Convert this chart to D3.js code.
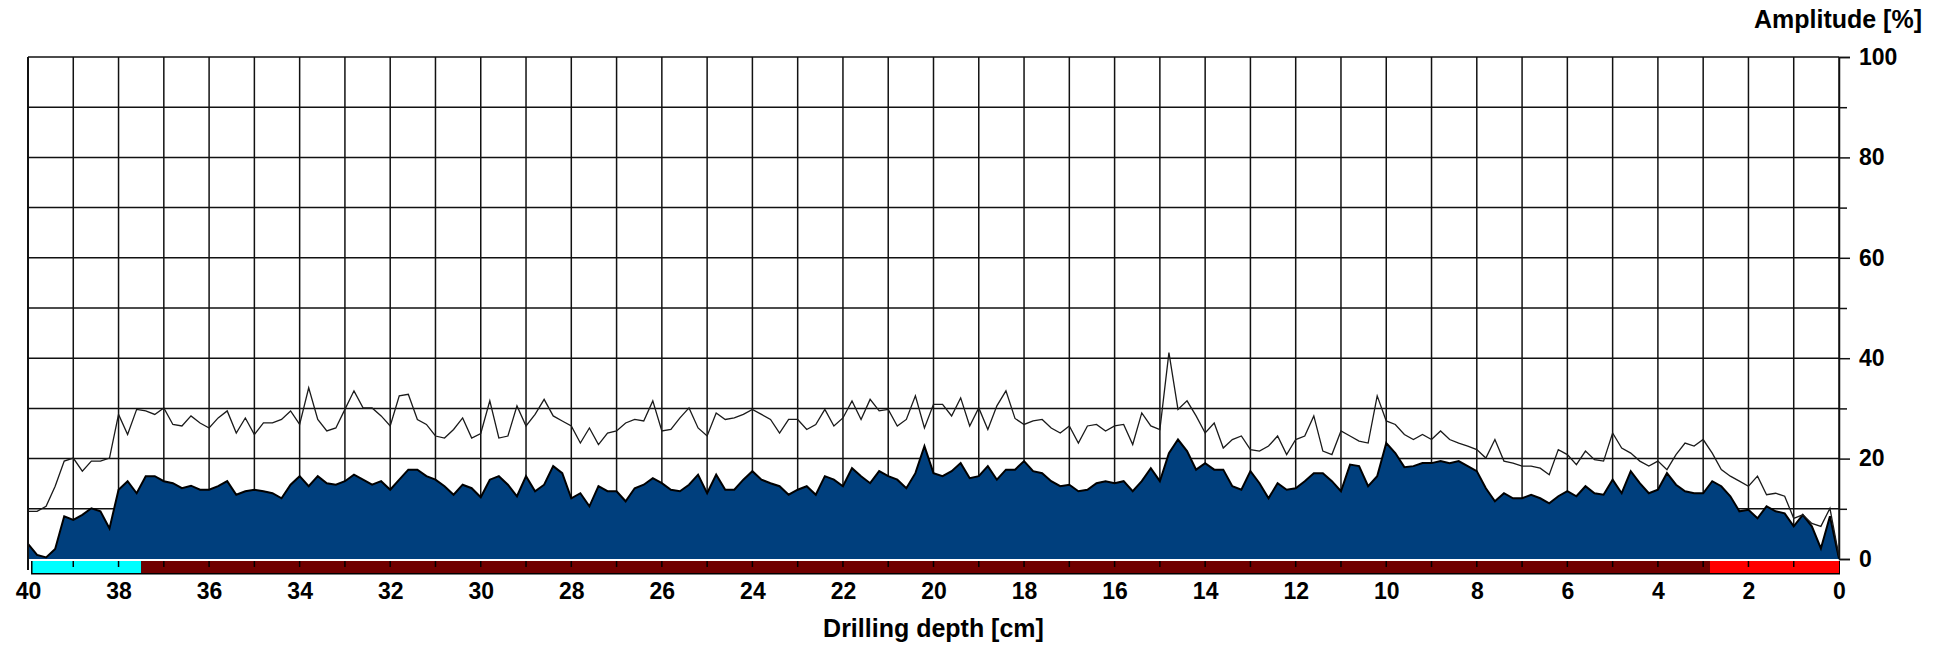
<!DOCTYPE html>
<html>
<head>
<meta charset="utf-8">
<script src="https://cdn.jsdelivr.net/npm/d3@7/dist/d3.min.js"></script>
<style>
  body { margin: 0; background: #fff; }
  svg text { font-family: Arial, "Liberation Sans", sans-serif; font-weight: bold; fill: #000; }
</style>
</head>
<body>
<div id="chart"></div>
<script>
// Sampling of the profile: starts at 40 cm, one value every 0.2 cm towards 0 cm
const depthStart = 40;
const depthStep = 0.2;

// Drilling resistance amplitude [%] (filled profile), read from left (40 cm) to right (0 cm)
const amplitude = [
  3.0, 0.8, 0.3, 2.0, 8.5, 7.8, 8.8, 10.1, 9.5, 6.1,
  13.8, 15.5, 13.1, 16.5, 16.5, 15.5, 15.1, 14.1, 14.6, 13.8,
  13.8, 14.5, 15.5, 12.8, 13.5, 13.8, 13.5, 13.1, 12.1, 14.8,
  16.5, 14.5, 16.5, 15.1, 14.8, 15.5, 16.8, 15.8, 14.8, 15.5,
  13.8, 15.8, 17.8, 17.8, 16.5, 15.8, 14.5, 12.8, 14.8, 14.1,
  12.3, 15.8, 16.5, 14.8, 12.5, 16.5, 13.5, 14.8, 18.5, 17.1,
  12.1, 13.1, 10.5, 14.5, 13.5, 13.5, 11.5, 14.1, 14.8, 16.1,
  15.1, 13.8, 13.5, 14.8, 16.8, 13.1, 16.8, 13.8, 13.8, 15.8,
  17.5, 15.8, 15.1, 14.5, 12.8, 13.8, 14.5, 12.8, 16.5, 15.8,
  14.5, 18.1, 16.5, 15.1, 17.5, 16.5, 15.8, 14.1, 17.1, 22.5,
  17.1, 16.5, 17.5, 19.1, 16.1, 16.5, 18.5, 15.8, 17.8, 17.8,
  19.5, 17.5, 17.1, 15.5, 14.5, 14.8, 13.5, 13.8, 15.1, 15.5,
  15.1, 15.5, 13.5, 15.5, 18.1, 15.5, 21.1, 23.8, 21.5, 17.8,
  19.1, 17.8, 17.8, 14.5, 13.8, 17.5, 15.1, 12.1, 15.1, 13.8,
  14.1, 15.5, 17.1, 17.1, 15.5, 13.5, 18.8, 18.5, 14.5, 16.5,
  23.1, 21.1, 18.3, 18.5, 19.1, 19.1, 19.5, 19.1, 19.5, 18.5,
  17.5, 14.1, 11.5, 13.1, 12.1, 12.1, 12.8, 12.1, 11.1, 12.5,
  13.5, 12.5, 14.5, 13.1, 12.8, 15.8, 13.1, 17.5, 15.1, 13.1,
  13.8, 17.1, 14.8, 13.5, 13.1, 13.1, 15.5, 14.5, 12.5, 9.5,
  9.8, 8.1, 10.5, 9.5, 9.1, 6.5, 8.8, 6.5, 2.1, 8.5,
  0.1
];

// Feed amplitude [%] (thin line), same sampling
const feed = [
  9.5, 9.5, 10.5, 14.5, 19.5, 20.1, 17.5, 19.5, 19.5, 20.1,
  28.8, 24.8, 29.8, 29.5, 28.8, 30.1, 26.8, 26.5, 28.5, 27.1,
  26.1, 28.1, 29.5, 25.1, 28.1, 24.8, 27.1, 27.1, 27.8, 29.5,
  26.8, 34.1, 27.8, 25.5, 26.1, 29.8, 33.5, 30.1, 30.1, 28.5,
  26.5, 32.5, 32.8, 27.8, 26.8, 24.5, 24.1, 25.8, 28.1, 24.1,
  25.0, 31.5, 24.1, 24.5, 30.5, 26.5, 28.8, 31.8, 28.5, 27.5,
  26.5, 23.1, 26.1, 22.8, 25.1, 25.5, 27.1, 27.8, 27.5, 31.5,
  25.5, 25.8, 28.1, 30.1, 26.1, 24.5, 29.1, 27.8, 28.1, 28.8,
  29.8, 28.8, 27.8, 25.1, 27.8, 27.8, 25.8, 26.8, 29.8, 26.5,
  28.1, 31.5, 27.8, 31.8, 29.5, 29.8, 26.5, 27.8, 32.5, 26.1,
  30.8, 30.8, 28.5, 32.1, 26.5, 30.1, 25.8, 30.5, 33.5, 28.0,
  26.8, 27.5, 27.8, 26.1, 25.1, 26.5, 23.1, 26.5, 26.8, 25.5,
  26.5, 26.8, 22.8, 29.1, 26.5, 25.8, 41.1, 29.8, 31.5, 28.5,
  25.1, 27.1, 22.1, 23.8, 24.5, 21.8, 21.5, 22.5, 24.5, 20.8,
  23.8, 24.5, 28.5, 21.5, 20.8, 25.5, 24.5, 23.5, 23.1, 32.5,
  27.5, 26.8, 24.8, 23.8, 24.8, 23.8, 25.5, 23.8, 23.1, 22.5,
  21.8, 20.1, 23.8, 19.5, 19.1, 18.5, 18.5, 18.1, 16.8, 21.8,
  20.8, 18.8, 21.5, 19.8, 19.5, 25.1, 22.1, 21.1, 19.5, 18.5,
  19.5, 17.8, 20.8, 23.1, 22.5, 23.8, 21.1, 17.8, 16.5, 15.5,
  14.5, 16.5, 12.8, 13.1, 12.5, 8.1, 8.8, 7.1, 6.5, 10.1,
  0.5
];

// Axis tick labels
const depthTicks = [40, 38, 36, 34, 32, 30, 28, 26, 24, 22, 20, 18, 16, 14, 12, 10, 8, 6, 4, 2, 0];
const amplitudeTicks = [0, 20, 40, 60, 80, 100];
const amplitudeMinorTicks = [10, 30, 50, 70, 90];

// Zones of the depth bar under the plot
const zones = [
  { from: 39.9, to: 37.5, kind: "entry" },
  { from: 37.5, to: 2.85, kind: "wood" },
  { from: 2.85, to: 0, kind: "exit" }
];

function renderProfile(container) {
  const width = 1946;
  const height = 650;
  const margin = { top: 57, right: 107, bottom: 91, left: 28 };

  const x = d3.scaleLinear().domain([40, 0]).range([margin.left, width - margin.right]);
  const y = d3.scaleLinear().domain([0, 100]).range([height - margin.bottom, margin.top]);

  const data = amplitude.map((a, i) => ({ depth: depthStart - i * depthStep, amp: a, feed: feed[i] }));

  const svg = d3.select(container).append("svg").attr("width", width).attr("height", height);

  // Grid: one vertical line per cm, one horizontal line per 10 %
  svg
    .append("g")
    .selectAll("line")
    .data(d3.range(0, 41))
    .join("line")
    .attr("x1", (d) => x(d))
    .attr("x2", (d) => x(d))
    .attr("y1", y(100))
    .attr("y2", y(0))
    .attr("stroke", "#111")
    .attr("stroke-width", 1.5);

  svg
    .append("g")
    .selectAll("line")
    .data(d3.range(10, 101, 10))
    .join("line")
    .attr("x1", x(40))
    .attr("x2", x(0))
    .attr("y1", (d) => y(d))
    .attr("y2", (d) => y(d))
    .attr("stroke", "#111")
    .attr("stroke-width", 1.5);

  // Filled amplitude profile
  const area = d3
    .area()
    .x((d) => x(d.depth))
    .y0(y(0))
    .y1((d) => y(d.amp));
  svg.append("path").datum(data).attr("d", area).attr("fill", "#003f7d");

  const ampLine = d3
    .line()
    .x((d) => x(d.depth))
    .y((d) => y(d.amp));
  svg.append("path").datum(data).attr("d", ampLine).attr("fill", "none").attr("stroke", "#000").attr("stroke-width", 2);

  // Feed line
  const feedLine = d3
    .line()
    .x((d) => x(d.depth))
    .y((d) => y(d.feed));
  svg.append("path").datum(data).attr("d", feedLine).attr("fill", "none").attr("stroke", "#1a1a1a").attr("stroke-width", 1.3);

  // Depth bar with zones
  const barTop = y(0) + 2;
  const barHeight = 12;
  const zoneColor = d3.scaleOrdinal().domain(["entry", "wood", "exit"]).range(["#00ffff", "#700000", "#ff0000"]);

  svg
    .append("rect")
    .attr("x", x(zones[0].from) - 1.5)
    .attr("y", barTop)
    .attr("width", x(0) - x(zones[0].from) + 2.5)
    .attr("height", barHeight + 1.5)
    .attr("fill", "#000");

  svg
    .append("g")
    .selectAll("rect")
    .data(zones)
    .join("rect")
    .attr("x", (d) => x(d.from))
    .attr("y", barTop)
    .attr("width", (d) => x(d.to) - x(d.from))
    .attr("height", barHeight)
    .attr("fill", (d) => zoneColor(d.kind));

  // cm ticks on the bar
  svg
    .append("g")
    .selectAll("line")
    .data(d3.range(1, 40))
    .join("line")
    .attr("x1", (d) => x(d))
    .attr("x2", (d) => x(d))
    .attr("y1", barTop)
    .attr("y2", barTop + 6)
    .attr("stroke", "#000")
    .attr("stroke-width", 1.5);

  // left border runs a little below the plot
  svg
    .append("line")
    .attr("x1", x(40))
    .attr("x2", x(40))
    .attr("y1", y(100))
    .attr("y2", y(0) + 11)
    .attr("stroke", "#111")
    .attr("stroke-width", 2);

  // Right axis (amplitude)
  const yAxis = svg
    .append("g")
    .attr("transform", `translate(${x(0)},0)`)
    .call(d3.axisRight(y).tickValues(amplitudeTicks).tickSize(11).tickPadding(9));
  yAxis.select(".domain").attr("stroke", "#111").attr("stroke-width", 1.5);
  yAxis.selectAll(".tick line").attr("stroke", "#111").attr("stroke-width", 1.5);
  yAxis.selectAll("text").style("font-size", "23px");

  const yMinor = svg
    .append("g")
    .attr("transform", `translate(${x(0)},0)`)
    .call(d3.axisRight(y).tickValues(amplitudeMinorTicks).tickSize(8).tickFormat(""));
  yMinor.select(".domain").remove();
  yMinor.selectAll(".tick line").attr("stroke", "#111").attr("stroke-width", 1.5);

  // Bottom axis (depth labels only)
  const xAxis = svg
    .append("g")
    .attr("transform", `translate(0,${y(0)})`)
    .call(d3.axisBottom(x).tickValues(depthTicks).tickSize(0).tickPadding(24));
  xAxis.select(".domain").remove();
  xAxis.selectAll("text").style("font-size", "23px");

  // Axis titles
  svg
    .append("text")
    .attr("x", 1922)
    .attr("y", 28)
    .attr("text-anchor", "end")
    .style("font-size", "25px")
    .text("Amplitude [%]");

  svg
    .append("text")
    .attr("x", (x(40) + x(0)) / 2)
    .attr("y", 637)
    .attr("text-anchor", "middle")
    .style("font-size", "25px")
    .text("Drilling depth [cm]");
}

renderProfile(document.getElementById("chart"));
</script>
</body>
</html>
